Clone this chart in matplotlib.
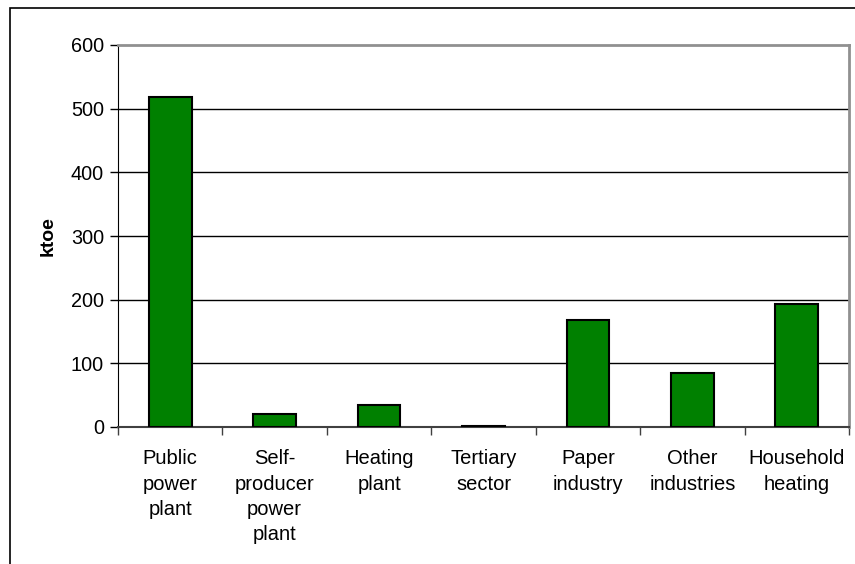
import numpy as np
import matplotlib.pyplot as plt
from matplotlib.patches import Rectangle

plt.rcParams['font.family'] = ['Liberation Sans', 'DejaVu Sans']

categories = ['Public\npower\nplant', 'Self-\nproducer\npower\nplant', 'Heating\nplant',
              'Tertiary\nsector', 'Paper\nindustry', 'Other\nindustries', 'Household\nheating']
values = [518, 21, 34, 2, 168, 85, 193]
yticks = [0, 100, 200, 300, 400, 500, 600]

fig = plt.figure(figsize=(8.55, 5.64), dpi=100)
# outer chart frame
fig.patches.append(Rectangle((10 / 855, -0.1), 1.0, 1.1 - 8 / 564, transform=fig.transFigure,
                             fill=False, edgecolor='black', linewidth=1.2, zorder=0))

ax = fig.add_axes([118 / 855, 137 / 564, 731 / 855, 382 / 564])
x = np.arange(len(categories))
ax.bar(x, values, width=0.41, color='#008000', edgecolor='black', linewidth=1.5, zorder=3)

ax.set_xlim(-0.5, len(categories) - 0.5)
ax.set_ylim(0, 600)
ax.set_yticks(yticks)
ax.tick_params(axis='y', labelsize=14.3, length=6, width=1, direction='out', pad=4)
for y in yticks[1:-1]:
    ax.axhline(y, color='black', linewidth=1, zorder=1)

# category labels between boundary ticks
ax.set_xticks(np.arange(len(categories) + 1) - 0.5)
ax.set_xticklabels([])
ax.tick_params(axis='x', length=6, width=1, color='#404040')
for i, c in enumerate(categories):
    ax.text(i, -35, c, ha='center', va='top', fontsize=14.5, linespacing=1.42)

ax.set_ylabel('ktoe', fontsize=14, fontweight='bold', labelpad=10)

ax.spines['top'].set_color('#909090')
ax.spines['right'].set_color('#909090')
ax.spines['top'].set_linewidth(2)
ax.spines['right'].set_linewidth(2)
ax.spines['left'].set_color('black')
ax.spines['bottom'].set_color('#404040')
ax.spines['bottom'].set_linewidth(1.5)

fig.savefig('out.png', dpi=100)
